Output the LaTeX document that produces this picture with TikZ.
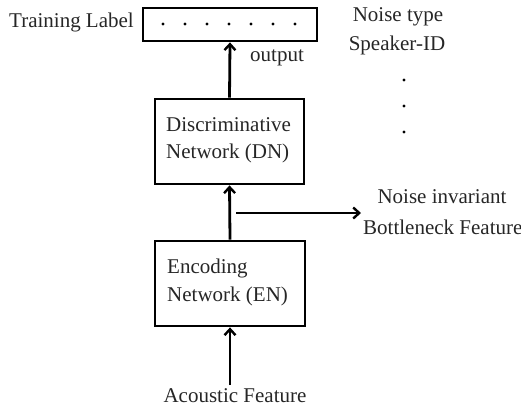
\documentclass[tikz,border=0pt]{standalone}
\usepackage{fontspec}
\setmainfont{Liberation Serif}
\usetikzlibrary{arrows.meta}
\begin{document}
\begin{tikzpicture}[x=1pt,y=-1pt,
  box/.style={draw,line width=2.8pt,inner sep=0pt},
  lbl/.style={font=\fontsize{21}{28}\selectfont,inner sep=0pt,text=black!85},
  arr/.style={line width=2.8pt,-{Straight Barb[length=6pt,width=11pt,line width=2.4pt]}},
  dotc/.style={circle,fill=black,inner sep=0pt,minimum size=3.2pt}]
\useasboundingbox (0,0) rectangle (521,408);
% training label box
\node[box,minimum width=174pt,minimum height=33pt] (tl) at (230,24.5) {};
\foreach \i in {0,...,6} {\node[dotc] (d\i) at (163+\i*22,24) {};}
\node[lbl,anchor=east] (tltext) at (134,22) {Training Label};
\node[lbl] (nt) at (398,17) {Noise type};
\node[lbl] (sid) at (397,45) {Speaker-ID};
\node[dotc] (v1) at (404,80) {};
\node[dotc] (v2) at (404,106) {};
\node[dotc] (v3) at (404,132) {};
% DN
\node[box,minimum width=149pt,minimum height=85pt] (dn) at (229.5,141.5) {};
\node[lbl,anchor=west] (dn1) at (166,125) {Discriminative};
\node[lbl,anchor=west] (dn2) at (166,153) {Network (DN)};
% EN
\node[box,minimum width=150pt,minimum height=85pt] (en) at (230,283.5) {};
\node[lbl,anchor=west] (en1) at (167,268) {Encoding};
\node[lbl,anchor=west] (en2) at (167,296) {Network (EN)};
% labels
\node[lbl,anchor=west] (out) at (250,58) {output};
\node[lbl] (ni) at (442,197) {Noise invariant};
\node[lbl,anchor=west] (bf) at (363,227) {Bottleneck Feature};
\node[lbl] (af) at (235,396) {Acoustic Feature};
% arrows
\draw[arr] (dn.north) -- (tl.south);
\draw[arr] (en.north) -- (dn.south);
\coordinate (s0) at (236,213);
\coordinate (s1) at (361,213);
\draw[arr] (s0) -- (s1);
\coordinate (a0) at (230,385);
\draw[arr] (a0) -- (en.south);
\end{tikzpicture}
\end{document}
